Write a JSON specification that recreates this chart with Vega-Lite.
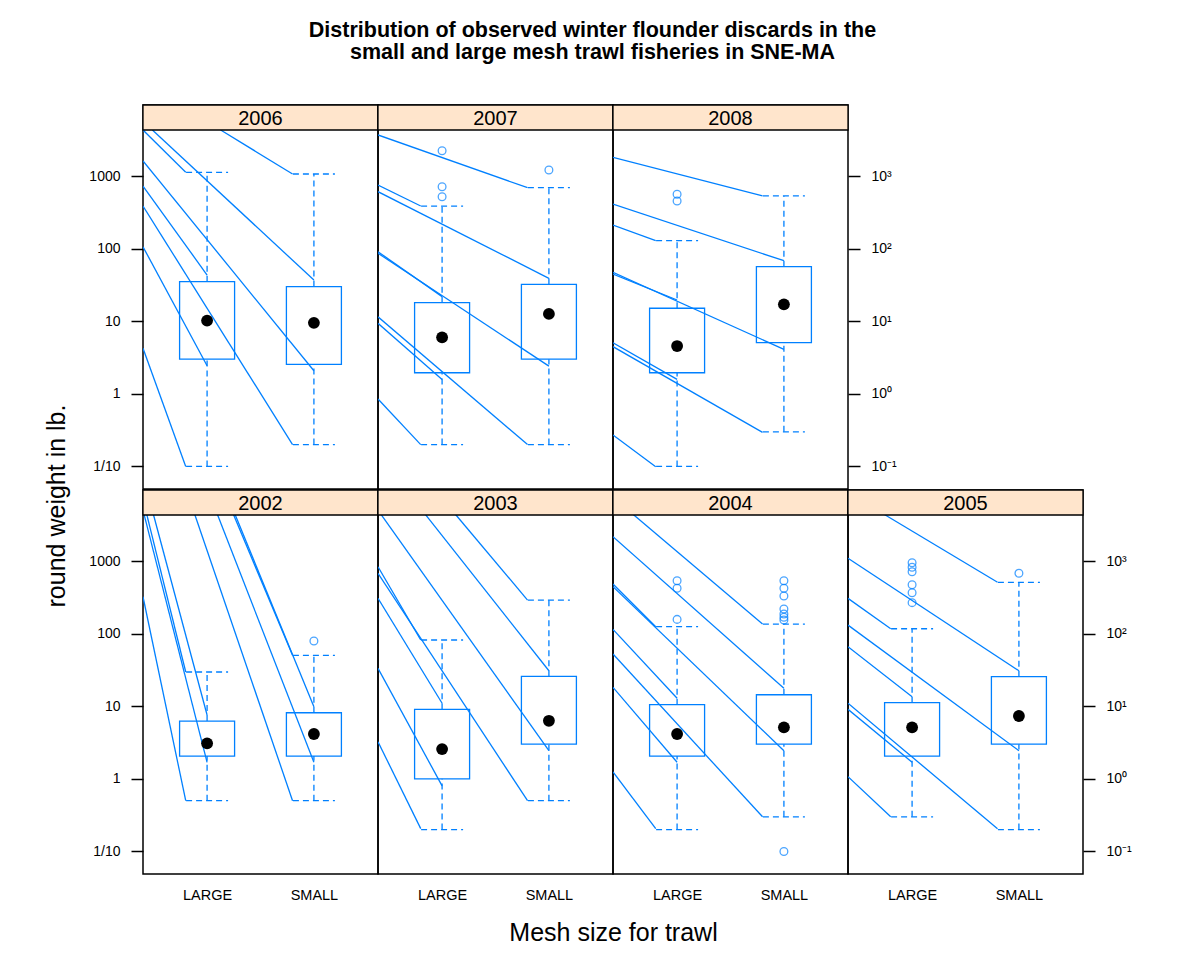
{
"$schema": "https://vega.github.io/schema/vega-lite/v6.json",
"padding": {"left": 37, "top": 20, "right": 10, "bottom": 5},
"background": "white",
"config": {
  "font": "Liberation Sans",
  "view": {"stroke": "black", "strokeWidth": 1.5},
  "axis": {"grid": false, "domain": false, "labelColor": "black", "tickColor": "black", "titleColor": "black", "labelFont": "Liberation Sans", "titleFont": "Liberation Sans"},
  "axisY": {"tickSize": 12, "tickWidth": 1.5, "labelPadding": 11, "labelFontSize": 14},
  "axisX": {"ticks": false, "tickSize": 0, "labelPadding": 14, "labelFontSize": 14.5, "labelAngle": 0},
  "axisLeft": {"labelExpr": "datum.value >= 999 ? '1000' : datum.value >= 99 ? '100' : datum.value >= 9 ? '10' : datum.value >= 0.9 ? '1' : '1/10'"},
  "axisRight": {"labelExpr": "datum.value >= 999 ? '10³' : datum.value >= 99 ? '10²' : datum.value >= 9 ? '10¹' : datum.value >= 0.9 ? '10⁰' : '10⁻¹'"},
  "concat": {"spacing": 0}
},
"title": {"text": ["Distribution of observed winter flounder discards in the", "small and large mesh trawl fisheries in SNE-MA"], "fontSize": 21.5, "fontWeight": "bold", "font": "Liberation Sans", "lineHeight": 22, "anchor": "middle", "offset": 40, "dx": 8, "color": "black"},
"datasets": {
  "boxes": [
    {"year":2006,"mesh":"LARGE","lcap":0.1,"q1":3.0,"median":10.2,"q3":35,"ucap":1125},
    {"year":2006,"mesh":"SMALL","lcap":0.2,"q1":2.55,"median":9.5,"q3":30,"ucap":1066},
    {"year":2007,"mesh":"LARGE","lcap":0.2,"q1":1.95,"median":6.0,"q3":18,"ucap":386},
    {"year":2007,"mesh":"SMALL","lcap":0.2,"q1":3.0,"median":12.6,"q3":32.2,"ucap":690},
    {"year":2008,"mesh":"LARGE","lcap":0.1,"q1":1.95,"median":4.55,"q3":15.1,"ucap":128.5},
    {"year":2008,"mesh":"SMALL","lcap":0.3,"q1":5.06,"median":17.1,"q3":56.4,"ucap":531},
    {"year":2002,"mesh":"LARGE","lcap":0.5,"q1":2.06,"median":3.08,"q3":6.25,"ucap":29.6},
    {"year":2002,"mesh":"SMALL","lcap":0.5,"q1":2.06,"median":4.14,"q3":8.13,"ucap":50.3},
    {"year":2003,"mesh":"LARGE","lcap":0.2,"q1":1.0,"median":2.57,"q3":9.06,"ucap":81.7},
    {"year":2003,"mesh":"SMALL","lcap":0.5,"q1":3.0,"median":6.3,"q3":25.8,"ucap":290},
    {"year":2004,"mesh":"LARGE","lcap":0.2,"q1":2.06,"median":4.14,"q3":10.5,"ucap":124.5},
    {"year":2004,"mesh":"SMALL","lcap":0.3,"q1":3.0,"median":5.12,"q3":14.4,"ucap":135.5},
    {"year":2005,"mesh":"LARGE","lcap":0.3,"q1":2.06,"median":5.12,"q3":11.2,"ucap":116.7},
    {"year":2005,"mesh":"SMALL","lcap":0.2,"q1":3.0,"median":7.33,"q3":25.5,"ucap":509}
  ],
  "outliers": [
    {"year":2007,"mesh":"LARGE","value":2229},{"year":2007,"mesh":"LARGE","value":713},{"year":2007,"mesh":"LARGE","value":519},{"year":2007,"mesh":"SMALL","value":1210},
    {"year":2008,"mesh":"LARGE","value":560},{"year":2008,"mesh":"LARGE","value":453},
    {"year":2002,"mesh":"SMALL","value":79.1},
    {"year":2004,"mesh":"LARGE","value":535},{"year":2004,"mesh":"LARGE","value":421},{"year":2004,"mesh":"LARGE","value":157},
    {"year":2004,"mesh":"SMALL","value":535},{"year":2004,"mesh":"SMALL","value":421},{"year":2004,"mesh":"SMALL","value":330},{"year":2004,"mesh":"SMALL","value":218},{"year":2004,"mesh":"SMALL","value":186},{"year":2004,"mesh":"SMALL","value":168},{"year":2004,"mesh":"SMALL","value":154},{"year":2004,"mesh":"SMALL","value":0.1},
    {"year":2005,"mesh":"LARGE","value":948},{"year":2005,"mesh":"LARGE","value":819},{"year":2005,"mesh":"LARGE","value":713},{"year":2005,"mesh":"LARGE","value":472},{"year":2005,"mesh":"LARGE","value":366},{"year":2005,"mesh":"LARGE","value":267},
    {"year":2005,"mesh":"SMALL","value":677}
  ],
  "strips": [{"year":2002},{"year":2003},{"year":2004},{"year":2005},{"year":2006},{"year":2007},{"year":2008}],
  "segs": [
    {"year":2006,"x1":0.4,"y1":4305,"x2":0.8,"y2":1125},
    {"year":2006,"x1":0.488,"y1":4305,"x2":2,"y2":36.9},
    {"year":2006,"x1":1.127,"y1":4305,"x2":1.8,"y2":1066},
    {"year":2006,"x1":0.4,"y1":1611,"x2":2,"y2":2.08},
    {"year":2006,"x1":0.4,"y1":728,"x2":1,"y2":43.3},
    {"year":2006,"x1":0.4,"y1":386,"x2":1.8,"y2":0.2},
    {"year":2006,"x1":0.4,"y1":106,"x2":1,"y2":2.44},
    {"year":2006,"x1":0.4,"y1":4.24,"x2":0.8,"y2":0.1},
    {"year":2007,"x1":0.4,"y1":3673,"x2":1.8,"y2":690},
    {"year":2007,"x1":0.4,"y1":751,"x2":0.8,"y2":386},
    {"year":2007,"x1":0.4,"y1":608,"x2":2,"y2":39},
    {"year":2007,"x1":0.4,"y1":90.6,"x2":1,"y2":21.8},
    {"year":2007,"x1":0.4,"y1":86.1,"x2":2,"y2":2.41},
    {"year":2007,"x1":0.4,"y1":11.5,"x2":1.8,"y2":0.2},
    {"year":2007,"x1":0.4,"y1":9.35,"x2":1,"y2":1.58},
    {"year":2007,"x1":0.4,"y1":0.847,"x2":0.8,"y2":0.2},
    {"year":2008,"x1":0.4,"y1":1811,"x2":1.8,"y2":531},
    {"year":2008,"x1":0.4,"y1":411,"x2":2,"y2":68.1},
    {"year":2008,"x1":0.4,"y1":211,"x2":0.8,"y2":128.5},
    {"year":2008,"x1":0.4,"y1":44.7,"x2":1,"y2":19.6},
    {"year":2008,"x1":0.4,"y1":47.2,"x2":2,"y2":4.1},
    {"year":2008,"x1":0.4,"y1":5.06,"x2":1,"y2":1.58},
    {"year":2008,"x1":0.4,"y1":4.46,"x2":1.8,"y2":0.295},
    {"year":2008,"x1":0.4,"y1":0.271,"x2":0.8,"y2":0.099},
    {"year":2002,"x1":0.41,"y1":4400,"x2":1,"y2":1.69},
    {"year":2002,"x1":0.435,"y1":4400,"x2":0.8,"y2":29.6},
    {"year":2002,"x1":0.497,"y1":4400,"x2":1,"y2":7.57},
    {"year":2002,"x1":0.4,"y1":322,"x2":0.8,"y2":0.5},
    {"year":2002,"x1":0.884,"y1":4400,"x2":1.8,"y2":0.5},
    {"year":2002,"x1":1.096,"y1":4400,"x2":2,"y2":1.69},
    {"year":2002,"x1":1.246,"y1":4400,"x2":1.8,"y2":50.3},
    {"year":2002,"x1":1.261,"y1":4400,"x2":2,"y2":9.84},
    {"year":2003,"x1":1.124,"y1":4400,"x2":1.8,"y2":290},
    {"year":2003,"x1":0.843,"y1":4400,"x2":2,"y2":30.8},
    {"year":2003,"x1":0.428,"y1":4400,"x2":2,"y2":2.44},
    {"year":2003,"x1":0.4,"y1":834,"x2":0.8,"y2":81.7},
    {"year":2003,"x1":0.4,"y1":677,"x2":1.8,"y2":0.5},
    {"year":2003,"x1":0.4,"y1":306,"x2":1,"y2":11},
    {"year":2003,"x1":0.4,"y1":33.3,"x2":1,"y2":0.8},
    {"year":2003,"x1":0.4,"y1":3.24,"x2":0.8,"y2":0.206},
    {"year":2004,"x1":0.587,"y1":4400,"x2":1.8,"y2":135.5},
    {"year":2004,"x1":0.4,"y1":2163,"x2":2,"y2":17.7},
    {"year":2004,"x1":0.4,"y1":482,"x2":0.8,"y2":124.5},
    {"year":2004,"x1":0.4,"y1":443,"x2":2,"y2":2.44},
    {"year":2004,"x1":0.4,"y1":114.6,"x2":1,"y2":12.9},
    {"year":2004,"x1":0.4,"y1":52.4,"x2":1.8,"y2":0.3},
    {"year":2004,"x1":0.4,"y1":18.2,"x2":1,"y2":1.69},
    {"year":2004,"x1":0.4,"y1":1.25,"x2":0.8,"y2":0.206},
    {"year":2005,"x1":0.737,"y1":4400,"x2":1.8,"y2":509},
    {"year":2005,"x1":0.4,"y1":1089,"x2":2,"y2":30.8},
    {"year":2005,"x1":0.4,"y1":306,"x2":0.8,"y2":116.7},
    {"year":2005,"x1":0.4,"y1":131,"x2":2,"y2":2.44},
    {"year":2005,"x1":0.4,"y1":66.1,"x2":1,"y2":13.5},
    {"year":2005,"x1":0.4,"y1":11,"x2":1.8,"y2":0.206},
    {"year":2005,"x1":0.4,"y1":9.06,"x2":1,"y2":1.69},
    {"year":2005,"x1":0.4,"y1":1.07,"x2":0.8,"y2":0.3}
  ]
},
"spacing": 11,
"hconcat": [
  {"width": 40, "height": 802, "view": {"stroke": null}, "data": {"values": [{"label": "round weight in lb."}]},
   "mark": {"type": "text", "angle": 270, "fontSize": 25, "font": "Liberation Sans", "color": "black", "baseline": "middle", "align": "center"},
   "encoding": {"text": {"field": "label", "type": "nominal"}}},
  {"spacing": -2, "vconcat": [
    {"spacing": 0, "bounds": "flush", "hconcat": [
      {"width":235,"height":384,"resolve":{"scale":{"x":"independent"}},"layer":[
        {"data":{"name":"segs"},"transform":[{"filter":"datum.year == 2006"}],"mark":{"type":"rule","clip":true,"color":"#0080ff","strokeWidth":1.3},
         "encoding":{"x":{"field":"x1","type":"quantitative","scale":{"domain":[0.4,2.6],"nice":false,"zero":false},"axis":null},"x2":{"field":"x2"},
           "y":{"field":"y1","type":"quantitative","scale":{"type":"log","domain":[0.0489,9506],"nice":false},"axis":{"orient":"left","title":null,"values":[0.1,1,10,100,1000]}},"y2":{"field":"y2"}}},
        {"data":{"name":"boxes"},"transform":[{"filter":"datum.year == 2006"}],"mark":{"type":"bar","filled":false,"size":55,"color":"#0080ff","strokeWidth":1.3},
         "encoding":{"x":{"field":"mesh","type":"nominal","scale":{"type":"point","padding":0.6,"domain":["LARGE","SMALL"]},"axis":null},"y":{"field":"q1","type":"quantitative","axis":{"orient":"left","title":null,"values":[0.1,1,10,100,1000]}},"y2":{"field":"q3"}}},
        {"data":{"name":"boxes"},"transform":[{"filter":"datum.year == 2006"}],"mark":{"type":"rule","color":"#0080ff","strokeWidth":1.3,"strokeDash":[6,4]},
         "encoding":{"x":{"field":"mesh","type":"nominal","scale":{"type":"point","padding":0.6,"domain":["LARGE","SMALL"]},"axis":null},"y":{"field":"q3","type":"quantitative","axis":{"orient":"left","title":null,"values":[0.1,1,10,100,1000]}},"y2":{"field":"ucap"}}},
        {"data":{"name":"boxes"},"transform":[{"filter":"datum.year == 2006"}],"mark":{"type":"rule","color":"#0080ff","strokeWidth":1.3,"strokeDash":[6,4]},
         "encoding":{"x":{"field":"mesh","type":"nominal","scale":{"type":"point","padding":0.6,"domain":["LARGE","SMALL"]},"axis":null},"y":{"field":"lcap","type":"quantitative","axis":{"orient":"left","title":null,"values":[0.1,1,10,100,1000]}},"y2":{"field":"q1"}}},
        {"data":{"name":"boxes"},"transform":[{"filter":"datum.year == 2006"}],"mark":{"type":"rule","color":"#0080ff","strokeWidth":1.3,"strokeDash":[6,4],"xOffset":-21,"x2Offset":21},
         "encoding":{"x":{"field":"mesh","type":"nominal","scale":{"type":"point","padding":0.6,"domain":["LARGE","SMALL"]},"axis":null},"x2":{"field":"mesh"},"y":{"field":"ucap","type":"quantitative","axis":{"orient":"left","title":null,"values":[0.1,1,10,100,1000]}}}},
        {"data":{"name":"boxes"},"transform":[{"filter":"datum.year == 2006"}],"mark":{"type":"rule","color":"#0080ff","strokeWidth":1.3,"strokeDash":[6,4],"xOffset":-21,"x2Offset":21},
         "encoding":{"x":{"field":"mesh","type":"nominal","scale":{"type":"point","padding":0.6,"domain":["LARGE","SMALL"]},"axis":null},"x2":{"field":"mesh"},"y":{"field":"lcap","type":"quantitative","axis":{"orient":"left","title":null,"values":[0.1,1,10,100,1000]}}}},
        {"data":{"name":"boxes"},"transform":[{"filter":"datum.year == 2006"}],"mark":{"type":"point","filled":true,"color":"black","size":140,"opacity":1},
         "encoding":{"x":{"field":"mesh","type":"nominal","scale":{"type":"point","padding":0.6,"domain":["LARGE","SMALL"]},"axis":null},"y":{"field":"median","type":"quantitative","axis":{"orient":"left","title":null,"values":[0.1,1,10,100,1000]}}}},
        {"data":{"name":"strips"},"transform":[{"filter":"datum.year == 2006"}],"mark":{"type":"rect","fill":"#ffe5cc","stroke":"black","strokeWidth":1.3},
         "encoding":{"y":{"datum":4305,"axis":{"orient":"left","title":null,"values":[0.1,1,10,100,1000]}},"y2":{"datum":9506}}},
        {"data":{"name":"strips"},"transform":[{"filter":"datum.year == 2006"}],"mark":{"type":"text","fontSize":20,"baseline":"middle","dy":2,"color":"black"},
         "encoding":{"text":{"field":"year","type":"nominal"},"y":{"datum":6400,"axis":{"orient":"left","title":null,"values":[0.1,1,10,100,1000]}}}}
      ]},
      {"width":235,"height":384,"resolve":{"scale":{"x":"independent"}},"layer":[
        {"data":{"name":"segs"},"transform":[{"filter":"datum.year == 2007"}],"mark":{"type":"rule","clip":true,"color":"#0080ff","strokeWidth":1.3},
         "encoding":{"x":{"field":"x1","type":"quantitative","scale":{"domain":[0.4,2.6],"nice":false,"zero":false},"axis":null},"x2":{"field":"x2"},
           "y":{"field":"y1","type":"quantitative","scale":{"type":"log","domain":[0.0489,9506],"nice":false},"axis":null},"y2":{"field":"y2"}}},
        {"data":{"name":"boxes"},"transform":[{"filter":"datum.year == 2007"}],"mark":{"type":"bar","filled":false,"size":55,"color":"#0080ff","strokeWidth":1.3},
         "encoding":{"x":{"field":"mesh","type":"nominal","scale":{"type":"point","padding":0.6,"domain":["LARGE","SMALL"]},"axis":null},"y":{"field":"q1","type":"quantitative","axis":null},"y2":{"field":"q3"}}},
        {"data":{"name":"boxes"},"transform":[{"filter":"datum.year == 2007"}],"mark":{"type":"rule","color":"#0080ff","strokeWidth":1.3,"strokeDash":[6,4]},
         "encoding":{"x":{"field":"mesh","type":"nominal","scale":{"type":"point","padding":0.6,"domain":["LARGE","SMALL"]},"axis":null},"y":{"field":"q3","type":"quantitative","axis":null},"y2":{"field":"ucap"}}},
        {"data":{"name":"boxes"},"transform":[{"filter":"datum.year == 2007"}],"mark":{"type":"rule","color":"#0080ff","strokeWidth":1.3,"strokeDash":[6,4]},
         "encoding":{"x":{"field":"mesh","type":"nominal","scale":{"type":"point","padding":0.6,"domain":["LARGE","SMALL"]},"axis":null},"y":{"field":"lcap","type":"quantitative","axis":null},"y2":{"field":"q1"}}},
        {"data":{"name":"boxes"},"transform":[{"filter":"datum.year == 2007"}],"mark":{"type":"rule","color":"#0080ff","strokeWidth":1.3,"strokeDash":[6,4],"xOffset":-21,"x2Offset":21},
         "encoding":{"x":{"field":"mesh","type":"nominal","scale":{"type":"point","padding":0.6,"domain":["LARGE","SMALL"]},"axis":null},"x2":{"field":"mesh"},"y":{"field":"ucap","type":"quantitative","axis":null}}},
        {"data":{"name":"boxes"},"transform":[{"filter":"datum.year == 2007"}],"mark":{"type":"rule","color":"#0080ff","strokeWidth":1.3,"strokeDash":[6,4],"xOffset":-21,"x2Offset":21},
         "encoding":{"x":{"field":"mesh","type":"nominal","scale":{"type":"point","padding":0.6,"domain":["LARGE","SMALL"]},"axis":null},"x2":{"field":"mesh"},"y":{"field":"lcap","type":"quantitative","axis":null}}},
        {"data":{"name":"boxes"},"transform":[{"filter":"datum.year == 2007"}],"mark":{"type":"point","filled":true,"color":"black","size":140,"opacity":1},
         "encoding":{"x":{"field":"mesh","type":"nominal","scale":{"type":"point","padding":0.6,"domain":["LARGE","SMALL"]},"axis":null},"y":{"field":"median","type":"quantitative","axis":null}}},
        {"data":{"name":"outliers"},"transform":[{"filter":"datum.year == 2007"}],"mark":{"type":"point","filled":false,"color":"#0080ff","size":60,"strokeWidth":1.3},
         "encoding":{"x":{"field":"mesh","type":"nominal","scale":{"type":"point","padding":0.6,"domain":["LARGE","SMALL"]},"axis":null},"y":{"field":"value","type":"quantitative","axis":null}}},
        {"data":{"name":"strips"},"transform":[{"filter":"datum.year == 2007"}],"mark":{"type":"rect","fill":"#ffe5cc","stroke":"black","strokeWidth":1.3},
         "encoding":{"y":{"datum":4305,"axis":null},"y2":{"datum":9506}}},
        {"data":{"name":"strips"},"transform":[{"filter":"datum.year == 2007"}],"mark":{"type":"text","fontSize":20,"baseline":"middle","dy":2,"color":"black"},
         "encoding":{"text":{"field":"year","type":"nominal"},"y":{"datum":6400,"axis":null}}}
      ]},
      {"width":235,"height":384,"resolve":{"scale":{"x":"independent"}},"layer":[
        {"data":{"name":"segs"},"transform":[{"filter":"datum.year == 2008"}],"mark":{"type":"rule","clip":true,"color":"#0080ff","strokeWidth":1.3},
         "encoding":{"x":{"field":"x1","type":"quantitative","scale":{"domain":[0.4,2.6],"nice":false,"zero":false},"axis":null},"x2":{"field":"x2"},
           "y":{"field":"y1","type":"quantitative","scale":{"type":"log","domain":[0.0489,9506],"nice":false},"axis":{"orient":"right","title":null,"values":[0.1,1,10,100,1000]}},"y2":{"field":"y2"}}},
        {"data":{"name":"boxes"},"transform":[{"filter":"datum.year == 2008"}],"mark":{"type":"bar","filled":false,"size":55,"color":"#0080ff","strokeWidth":1.3},
         "encoding":{"x":{"field":"mesh","type":"nominal","scale":{"type":"point","padding":0.6,"domain":["LARGE","SMALL"]},"axis":null},"y":{"field":"q1","type":"quantitative","axis":{"orient":"right","title":null,"values":[0.1,1,10,100,1000]}},"y2":{"field":"q3"}}},
        {"data":{"name":"boxes"},"transform":[{"filter":"datum.year == 2008"}],"mark":{"type":"rule","color":"#0080ff","strokeWidth":1.3,"strokeDash":[6,4]},
         "encoding":{"x":{"field":"mesh","type":"nominal","scale":{"type":"point","padding":0.6,"domain":["LARGE","SMALL"]},"axis":null},"y":{"field":"q3","type":"quantitative","axis":{"orient":"right","title":null,"values":[0.1,1,10,100,1000]}},"y2":{"field":"ucap"}}},
        {"data":{"name":"boxes"},"transform":[{"filter":"datum.year == 2008"}],"mark":{"type":"rule","color":"#0080ff","strokeWidth":1.3,"strokeDash":[6,4]},
         "encoding":{"x":{"field":"mesh","type":"nominal","scale":{"type":"point","padding":0.6,"domain":["LARGE","SMALL"]},"axis":null},"y":{"field":"lcap","type":"quantitative","axis":{"orient":"right","title":null,"values":[0.1,1,10,100,1000]}},"y2":{"field":"q1"}}},
        {"data":{"name":"boxes"},"transform":[{"filter":"datum.year == 2008"}],"mark":{"type":"rule","color":"#0080ff","strokeWidth":1.3,"strokeDash":[6,4],"xOffset":-21,"x2Offset":21},
         "encoding":{"x":{"field":"mesh","type":"nominal","scale":{"type":"point","padding":0.6,"domain":["LARGE","SMALL"]},"axis":null},"x2":{"field":"mesh"},"y":{"field":"ucap","type":"quantitative","axis":{"orient":"right","title":null,"values":[0.1,1,10,100,1000]}}}},
        {"data":{"name":"boxes"},"transform":[{"filter":"datum.year == 2008"}],"mark":{"type":"rule","color":"#0080ff","strokeWidth":1.3,"strokeDash":[6,4],"xOffset":-21,"x2Offset":21},
         "encoding":{"x":{"field":"mesh","type":"nominal","scale":{"type":"point","padding":0.6,"domain":["LARGE","SMALL"]},"axis":null},"x2":{"field":"mesh"},"y":{"field":"lcap","type":"quantitative","axis":{"orient":"right","title":null,"values":[0.1,1,10,100,1000]}}}},
        {"data":{"name":"boxes"},"transform":[{"filter":"datum.year == 2008"}],"mark":{"type":"point","filled":true,"color":"black","size":140,"opacity":1},
         "encoding":{"x":{"field":"mesh","type":"nominal","scale":{"type":"point","padding":0.6,"domain":["LARGE","SMALL"]},"axis":null},"y":{"field":"median","type":"quantitative","axis":{"orient":"right","title":null,"values":[0.1,1,10,100,1000]}}}},
        {"data":{"name":"outliers"},"transform":[{"filter":"datum.year == 2008"}],"mark":{"type":"point","filled":false,"color":"#0080ff","size":60,"strokeWidth":1.3},
         "encoding":{"x":{"field":"mesh","type":"nominal","scale":{"type":"point","padding":0.6,"domain":["LARGE","SMALL"]},"axis":null},"y":{"field":"value","type":"quantitative","axis":{"orient":"right","title":null,"values":[0.1,1,10,100,1000]}}}},
        {"data":{"name":"strips"},"transform":[{"filter":"datum.year == 2008"}],"mark":{"type":"rect","fill":"#ffe5cc","stroke":"black","strokeWidth":1.3},
         "encoding":{"y":{"datum":4305,"axis":{"orient":"right","title":null,"values":[0.1,1,10,100,1000]}},"y2":{"datum":9506}}},
        {"data":{"name":"strips"},"transform":[{"filter":"datum.year == 2008"}],"mark":{"type":"text","fontSize":20,"baseline":"middle","dy":2,"color":"black"},
         "encoding":{"text":{"field":"year","type":"nominal"},"y":{"datum":6400,"axis":{"orient":"right","title":null,"values":[0.1,1,10,100,1000]}}}}
      ]}
    ]},
    {"spacing": 0, "bounds": "flush", "hconcat": [
      {"width":235,"height":384,"resolve":{"scale":{"x":"independent"}},"layer":[
        {"data":{"name":"segs"},"transform":[{"filter":"datum.year == 2002"}],"mark":{"type":"rule","clip":true,"color":"#0080ff","strokeWidth":1.3},
         "encoding":{"x":{"field":"x1","type":"quantitative","scale":{"domain":[0.4,2.6],"nice":false,"zero":false},"axis":null},"x2":{"field":"x2"},
           "y":{"field":"y1","type":"quantitative","scale":{"type":"log","domain":[0.0489,9506],"nice":false},"axis":{"orient":"left","title":null,"values":[0.1,1,10,100,1000]}},"y2":{"field":"y2"}}},
        {"data":{"name":"boxes"},"transform":[{"filter":"datum.year == 2002"}],"mark":{"type":"bar","filled":false,"size":55,"color":"#0080ff","strokeWidth":1.3},
         "encoding":{"x":{"field":"mesh","type":"nominal","scale":{"type":"point","padding":0.6,"domain":["LARGE","SMALL"]},"title":null,"axis":{"orient":"bottom"}},"y":{"field":"q1","type":"quantitative","axis":{"orient":"left","title":null,"values":[0.1,1,10,100,1000]}},"y2":{"field":"q3"}}},
        {"data":{"name":"boxes"},"transform":[{"filter":"datum.year == 2002"}],"mark":{"type":"rule","color":"#0080ff","strokeWidth":1.3,"strokeDash":[6,4]},
         "encoding":{"x":{"field":"mesh","type":"nominal","scale":{"type":"point","padding":0.6,"domain":["LARGE","SMALL"]},"axis":null},"y":{"field":"q3","type":"quantitative","axis":{"orient":"left","title":null,"values":[0.1,1,10,100,1000]}},"y2":{"field":"ucap"}}},
        {"data":{"name":"boxes"},"transform":[{"filter":"datum.year == 2002"}],"mark":{"type":"rule","color":"#0080ff","strokeWidth":1.3,"strokeDash":[6,4]},
         "encoding":{"x":{"field":"mesh","type":"nominal","scale":{"type":"point","padding":0.6,"domain":["LARGE","SMALL"]},"axis":null},"y":{"field":"lcap","type":"quantitative","axis":{"orient":"left","title":null,"values":[0.1,1,10,100,1000]}},"y2":{"field":"q1"}}},
        {"data":{"name":"boxes"},"transform":[{"filter":"datum.year == 2002"}],"mark":{"type":"rule","color":"#0080ff","strokeWidth":1.3,"strokeDash":[6,4],"xOffset":-21,"x2Offset":21},
         "encoding":{"x":{"field":"mesh","type":"nominal","scale":{"type":"point","padding":0.6,"domain":["LARGE","SMALL"]},"axis":null},"x2":{"field":"mesh"},"y":{"field":"ucap","type":"quantitative","axis":{"orient":"left","title":null,"values":[0.1,1,10,100,1000]}}}},
        {"data":{"name":"boxes"},"transform":[{"filter":"datum.year == 2002"}],"mark":{"type":"rule","color":"#0080ff","strokeWidth":1.3,"strokeDash":[6,4],"xOffset":-21,"x2Offset":21},
         "encoding":{"x":{"field":"mesh","type":"nominal","scale":{"type":"point","padding":0.6,"domain":["LARGE","SMALL"]},"axis":null},"x2":{"field":"mesh"},"y":{"field":"lcap","type":"quantitative","axis":{"orient":"left","title":null,"values":[0.1,1,10,100,1000]}}}},
        {"data":{"name":"boxes"},"transform":[{"filter":"datum.year == 2002"}],"mark":{"type":"point","filled":true,"color":"black","size":140,"opacity":1},
         "encoding":{"x":{"field":"mesh","type":"nominal","scale":{"type":"point","padding":0.6,"domain":["LARGE","SMALL"]},"axis":null},"y":{"field":"median","type":"quantitative","axis":{"orient":"left","title":null,"values":[0.1,1,10,100,1000]}}}},
        {"data":{"name":"outliers"},"transform":[{"filter":"datum.year == 2002"}],"mark":{"type":"point","filled":false,"color":"#0080ff","size":60,"strokeWidth":1.3},
         "encoding":{"x":{"field":"mesh","type":"nominal","scale":{"type":"point","padding":0.6,"domain":["LARGE","SMALL"]},"axis":null},"y":{"field":"value","type":"quantitative","axis":{"orient":"left","title":null,"values":[0.1,1,10,100,1000]}}}},
        {"data":{"name":"strips"},"transform":[{"filter":"datum.year == 2002"}],"mark":{"type":"rect","fill":"#ffe5cc","stroke":"black","strokeWidth":1.3},
         "encoding":{"y":{"datum":4305,"axis":{"orient":"left","title":null,"values":[0.1,1,10,100,1000]}},"y2":{"datum":9506}}},
        {"data":{"name":"strips"},"transform":[{"filter":"datum.year == 2002"}],"mark":{"type":"text","fontSize":20,"baseline":"middle","dy":2,"color":"black"},
         "encoding":{"text":{"field":"year","type":"nominal"},"y":{"datum":6400,"axis":{"orient":"left","title":null,"values":[0.1,1,10,100,1000]}}}}
      ]},
      {"width":235,"height":384,"resolve":{"scale":{"x":"independent"}},"layer":[
        {"data":{"name":"segs"},"transform":[{"filter":"datum.year == 2003"}],"mark":{"type":"rule","clip":true,"color":"#0080ff","strokeWidth":1.3},
         "encoding":{"x":{"field":"x1","type":"quantitative","scale":{"domain":[0.4,2.6],"nice":false,"zero":false},"axis":null},"x2":{"field":"x2"},
           "y":{"field":"y1","type":"quantitative","scale":{"type":"log","domain":[0.0489,9506],"nice":false},"axis":null},"y2":{"field":"y2"}}},
        {"data":{"name":"boxes"},"transform":[{"filter":"datum.year == 2003"}],"mark":{"type":"bar","filled":false,"size":55,"color":"#0080ff","strokeWidth":1.3},
         "encoding":{"x":{"field":"mesh","type":"nominal","scale":{"type":"point","padding":0.6,"domain":["LARGE","SMALL"]},"title":"Mesh size for trawl","axis":{"orient":"bottom","titleX":235,"titleFontSize":25,"titleFontWeight":"normal","titlePadding":19}},"y":{"field":"q1","type":"quantitative","axis":null},"y2":{"field":"q3"}}},
        {"data":{"name":"boxes"},"transform":[{"filter":"datum.year == 2003"}],"mark":{"type":"rule","color":"#0080ff","strokeWidth":1.3,"strokeDash":[6,4]},
         "encoding":{"x":{"field":"mesh","type":"nominal","scale":{"type":"point","padding":0.6,"domain":["LARGE","SMALL"]},"axis":null},"y":{"field":"q3","type":"quantitative","axis":null},"y2":{"field":"ucap"}}},
        {"data":{"name":"boxes"},"transform":[{"filter":"datum.year == 2003"}],"mark":{"type":"rule","color":"#0080ff","strokeWidth":1.3,"strokeDash":[6,4]},
         "encoding":{"x":{"field":"mesh","type":"nominal","scale":{"type":"point","padding":0.6,"domain":["LARGE","SMALL"]},"axis":null},"y":{"field":"lcap","type":"quantitative","axis":null},"y2":{"field":"q1"}}},
        {"data":{"name":"boxes"},"transform":[{"filter":"datum.year == 2003"}],"mark":{"type":"rule","color":"#0080ff","strokeWidth":1.3,"strokeDash":[6,4],"xOffset":-21,"x2Offset":21},
         "encoding":{"x":{"field":"mesh","type":"nominal","scale":{"type":"point","padding":0.6,"domain":["LARGE","SMALL"]},"axis":null},"x2":{"field":"mesh"},"y":{"field":"ucap","type":"quantitative","axis":null}}},
        {"data":{"name":"boxes"},"transform":[{"filter":"datum.year == 2003"}],"mark":{"type":"rule","color":"#0080ff","strokeWidth":1.3,"strokeDash":[6,4],"xOffset":-21,"x2Offset":21},
         "encoding":{"x":{"field":"mesh","type":"nominal","scale":{"type":"point","padding":0.6,"domain":["LARGE","SMALL"]},"axis":null},"x2":{"field":"mesh"},"y":{"field":"lcap","type":"quantitative","axis":null}}},
        {"data":{"name":"boxes"},"transform":[{"filter":"datum.year == 2003"}],"mark":{"type":"point","filled":true,"color":"black","size":140,"opacity":1},
         "encoding":{"x":{"field":"mesh","type":"nominal","scale":{"type":"point","padding":0.6,"domain":["LARGE","SMALL"]},"axis":null},"y":{"field":"median","type":"quantitative","axis":null}}},
        {"data":{"name":"strips"},"transform":[{"filter":"datum.year == 2003"}],"mark":{"type":"rect","fill":"#ffe5cc","stroke":"black","strokeWidth":1.3},
         "encoding":{"y":{"datum":4305,"axis":null},"y2":{"datum":9506}}},
        {"data":{"name":"strips"},"transform":[{"filter":"datum.year == 2003"}],"mark":{"type":"text","fontSize":20,"baseline":"middle","dy":2,"color":"black"},
         "encoding":{"text":{"field":"year","type":"nominal"},"y":{"datum":6400,"axis":null}}}
      ]},
      {"width":235,"height":384,"resolve":{"scale":{"x":"independent"}},"layer":[
        {"data":{"name":"segs"},"transform":[{"filter":"datum.year == 2004"}],"mark":{"type":"rule","clip":true,"color":"#0080ff","strokeWidth":1.3},
         "encoding":{"x":{"field":"x1","type":"quantitative","scale":{"domain":[0.4,2.6],"nice":false,"zero":false},"axis":null},"x2":{"field":"x2"},
           "y":{"field":"y1","type":"quantitative","scale":{"type":"log","domain":[0.0489,9506],"nice":false},"axis":null},"y2":{"field":"y2"}}},
        {"data":{"name":"boxes"},"transform":[{"filter":"datum.year == 2004"}],"mark":{"type":"bar","filled":false,"size":55,"color":"#0080ff","strokeWidth":1.3},
         "encoding":{"x":{"field":"mesh","type":"nominal","scale":{"type":"point","padding":0.6,"domain":["LARGE","SMALL"]},"title":null,"axis":{"orient":"bottom"}},"y":{"field":"q1","type":"quantitative","axis":null},"y2":{"field":"q3"}}},
        {"data":{"name":"boxes"},"transform":[{"filter":"datum.year == 2004"}],"mark":{"type":"rule","color":"#0080ff","strokeWidth":1.3,"strokeDash":[6,4]},
         "encoding":{"x":{"field":"mesh","type":"nominal","scale":{"type":"point","padding":0.6,"domain":["LARGE","SMALL"]},"axis":null},"y":{"field":"q3","type":"quantitative","axis":null},"y2":{"field":"ucap"}}},
        {"data":{"name":"boxes"},"transform":[{"filter":"datum.year == 2004"}],"mark":{"type":"rule","color":"#0080ff","strokeWidth":1.3,"strokeDash":[6,4]},
         "encoding":{"x":{"field":"mesh","type":"nominal","scale":{"type":"point","padding":0.6,"domain":["LARGE","SMALL"]},"axis":null},"y":{"field":"lcap","type":"quantitative","axis":null},"y2":{"field":"q1"}}},
        {"data":{"name":"boxes"},"transform":[{"filter":"datum.year == 2004"}],"mark":{"type":"rule","color":"#0080ff","strokeWidth":1.3,"strokeDash":[6,4],"xOffset":-21,"x2Offset":21},
         "encoding":{"x":{"field":"mesh","type":"nominal","scale":{"type":"point","padding":0.6,"domain":["LARGE","SMALL"]},"axis":null},"x2":{"field":"mesh"},"y":{"field":"ucap","type":"quantitative","axis":null}}},
        {"data":{"name":"boxes"},"transform":[{"filter":"datum.year == 2004"}],"mark":{"type":"rule","color":"#0080ff","strokeWidth":1.3,"strokeDash":[6,4],"xOffset":-21,"x2Offset":21},
         "encoding":{"x":{"field":"mesh","type":"nominal","scale":{"type":"point","padding":0.6,"domain":["LARGE","SMALL"]},"axis":null},"x2":{"field":"mesh"},"y":{"field":"lcap","type":"quantitative","axis":null}}},
        {"data":{"name":"boxes"},"transform":[{"filter":"datum.year == 2004"}],"mark":{"type":"point","filled":true,"color":"black","size":140,"opacity":1},
         "encoding":{"x":{"field":"mesh","type":"nominal","scale":{"type":"point","padding":0.6,"domain":["LARGE","SMALL"]},"axis":null},"y":{"field":"median","type":"quantitative","axis":null}}},
        {"data":{"name":"outliers"},"transform":[{"filter":"datum.year == 2004"}],"mark":{"type":"point","filled":false,"color":"#0080ff","size":60,"strokeWidth":1.3},
         "encoding":{"x":{"field":"mesh","type":"nominal","scale":{"type":"point","padding":0.6,"domain":["LARGE","SMALL"]},"axis":null},"y":{"field":"value","type":"quantitative","axis":null}}},
        {"data":{"name":"strips"},"transform":[{"filter":"datum.year == 2004"}],"mark":{"type":"rect","fill":"#ffe5cc","stroke":"black","strokeWidth":1.3},
         "encoding":{"y":{"datum":4305,"axis":null},"y2":{"datum":9506}}},
        {"data":{"name":"strips"},"transform":[{"filter":"datum.year == 2004"}],"mark":{"type":"text","fontSize":20,"baseline":"middle","dy":2,"color":"black"},
         "encoding":{"text":{"field":"year","type":"nominal"},"y":{"datum":6400,"axis":null}}}
      ]},
      {"width":235,"height":384,"resolve":{"scale":{"x":"independent"}},"layer":[
        {"data":{"name":"segs"},"transform":[{"filter":"datum.year == 2005"}],"mark":{"type":"rule","clip":true,"color":"#0080ff","strokeWidth":1.3},
         "encoding":{"x":{"field":"x1","type":"quantitative","scale":{"domain":[0.4,2.6],"nice":false,"zero":false},"axis":null},"x2":{"field":"x2"},
           "y":{"field":"y1","type":"quantitative","scale":{"type":"log","domain":[0.0489,9506],"nice":false},"axis":{"orient":"right","title":null,"values":[0.1,1,10,100,1000]}},"y2":{"field":"y2"}}},
        {"data":{"name":"boxes"},"transform":[{"filter":"datum.year == 2005"}],"mark":{"type":"bar","filled":false,"size":55,"color":"#0080ff","strokeWidth":1.3},
         "encoding":{"x":{"field":"mesh","type":"nominal","scale":{"type":"point","padding":0.6,"domain":["LARGE","SMALL"]},"title":null,"axis":{"orient":"bottom"}},"y":{"field":"q1","type":"quantitative","axis":{"orient":"right","title":null,"values":[0.1,1,10,100,1000]}},"y2":{"field":"q3"}}},
        {"data":{"name":"boxes"},"transform":[{"filter":"datum.year == 2005"}],"mark":{"type":"rule","color":"#0080ff","strokeWidth":1.3,"strokeDash":[6,4]},
         "encoding":{"x":{"field":"mesh","type":"nominal","scale":{"type":"point","padding":0.6,"domain":["LARGE","SMALL"]},"axis":null},"y":{"field":"q3","type":"quantitative","axis":{"orient":"right","title":null,"values":[0.1,1,10,100,1000]}},"y2":{"field":"ucap"}}},
        {"data":{"name":"boxes"},"transform":[{"filter":"datum.year == 2005"}],"mark":{"type":"rule","color":"#0080ff","strokeWidth":1.3,"strokeDash":[6,4]},
         "encoding":{"x":{"field":"mesh","type":"nominal","scale":{"type":"point","padding":0.6,"domain":["LARGE","SMALL"]},"axis":null},"y":{"field":"lcap","type":"quantitative","axis":{"orient":"right","title":null,"values":[0.1,1,10,100,1000]}},"y2":{"field":"q1"}}},
        {"data":{"name":"boxes"},"transform":[{"filter":"datum.year == 2005"}],"mark":{"type":"rule","color":"#0080ff","strokeWidth":1.3,"strokeDash":[6,4],"xOffset":-21,"x2Offset":21},
         "encoding":{"x":{"field":"mesh","type":"nominal","scale":{"type":"point","padding":0.6,"domain":["LARGE","SMALL"]},"axis":null},"x2":{"field":"mesh"},"y":{"field":"ucap","type":"quantitative","axis":{"orient":"right","title":null,"values":[0.1,1,10,100,1000]}}}},
        {"data":{"name":"boxes"},"transform":[{"filter":"datum.year == 2005"}],"mark":{"type":"rule","color":"#0080ff","strokeWidth":1.3,"strokeDash":[6,4],"xOffset":-21,"x2Offset":21},
         "encoding":{"x":{"field":"mesh","type":"nominal","scale":{"type":"point","padding":0.6,"domain":["LARGE","SMALL"]},"axis":null},"x2":{"field":"mesh"},"y":{"field":"lcap","type":"quantitative","axis":{"orient":"right","title":null,"values":[0.1,1,10,100,1000]}}}},
        {"data":{"name":"boxes"},"transform":[{"filter":"datum.year == 2005"}],"mark":{"type":"point","filled":true,"color":"black","size":140,"opacity":1},
         "encoding":{"x":{"field":"mesh","type":"nominal","scale":{"type":"point","padding":0.6,"domain":["LARGE","SMALL"]},"axis":null},"y":{"field":"median","type":"quantitative","axis":{"orient":"right","title":null,"values":[0.1,1,10,100,1000]}}}},
        {"data":{"name":"outliers"},"transform":[{"filter":"datum.year == 2005"}],"mark":{"type":"point","filled":false,"color":"#0080ff","size":60,"strokeWidth":1.3},
         "encoding":{"x":{"field":"mesh","type":"nominal","scale":{"type":"point","padding":0.6,"domain":["LARGE","SMALL"]},"axis":null},"y":{"field":"value","type":"quantitative","axis":{"orient":"right","title":null,"values":[0.1,1,10,100,1000]}}}},
        {"data":{"name":"strips"},"transform":[{"filter":"datum.year == 2005"}],"mark":{"type":"rect","fill":"#ffe5cc","stroke":"black","strokeWidth":1.3},
         "encoding":{"y":{"datum":4305,"axis":{"orient":"right","title":null,"values":[0.1,1,10,100,1000]}},"y2":{"datum":9506}}},
        {"data":{"name":"strips"},"transform":[{"filter":"datum.year == 2005"}],"mark":{"type":"text","fontSize":20,"baseline":"middle","dy":2,"color":"black"},
         "encoding":{"text":{"field":"year","type":"nominal"},"y":{"datum":6400,"axis":{"orient":"right","title":null,"values":[0.1,1,10,100,1000]}}}}
      ]}
    ]}
  ]}
]
}
